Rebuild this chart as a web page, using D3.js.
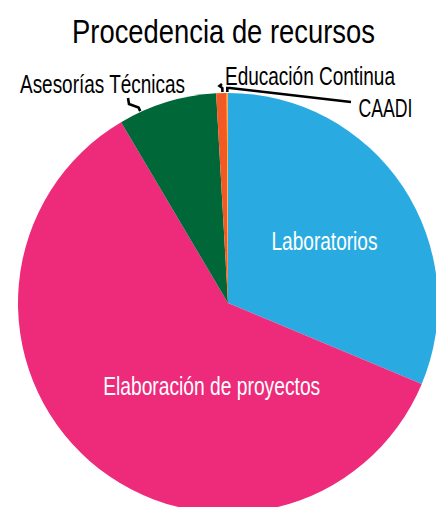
<!DOCTYPE html>
<html><head><meta charset="utf-8">
<script src="https://cdn.jsdelivr.net/npm/d3@7"></script>
<style>html,body{margin:0;padding:0;background:#fff;overflow:hidden}</style>
</head><body>
<svg id="c" width="436" height="507"></svg>
<script>
const categories = ["Laboratorios","Elaboración de proyectos","Asesorías Técnicas","Educación Continua","CAADI"];
const values = [31.3, 60.2, 7.6, 0.8, 0.1];
const colors = ["#29abe2","#ee2a7b","#006838","#f15a24","#fbb040"];
const title = "Procedencia de recursos";

const W=436,H=507, cx=228, cy=303, R=210;
const FONT='"Liberation Sans Narrow","Arial Narrow","Liberation Sans",Arial,sans-serif';
const svg=d3.select("#c");
const g=svg.append("g").attr("transform",`translate(${cx},${cy})`);
const pie=d3.pie().sort(null).value(d=>d)(values);
const arc=d3.arc().innerRadius(0).outerRadius(R);
g.selectAll("path").data(pie).join("path").attr("d",arc).attr("fill",(d,i)=>colors[i]);

function pt(a,r){return [r*Math.sin(a), -r*Math.cos(a)];}
function lerpA(d,t){return d.startAngle+(d.endAngle-d.startAngle)*t;}

const labelSpec=[
 {x:324.5,y:249.5,w:106,fill:"#fff"},
 {x:211.7,y:394.5,w:217,fill:"#fff"},
 {x:102.5,y:93,w:165,fill:"#000"},
 {x:310,y:85,w:170,fill:"#000"},
 {x:385.5,y:116.5,w:54,fill:"#000"}
];
const fs=25;
labelSpec.forEach((s,i)=>{
  svg.append("text").attr("x",s.x).attr("y",s.y).attr("text-anchor","middle")
   .attr("font-family",FONT).attr("font-size",fs).attr("fill",s.fill)
   .attr("textLength",s.w).attr("lengthAdjust","spacingAndGlyphs").text(categories[i]);
});
svg.append("text").attr("x",223.5).attr("y",43).attr("text-anchor","middle")
 .attr("font-family",FONT).attr("font-size",33.5).attr("fill","#000")
 .attr("textLength",303).attr("lengthAdjust","spacingAndGlyphs").text(title);

const line=d3.line();
function leader(i,t,pts){
  const a=lerpA(pie[i],t);
  const p0=pt(a,R+1), p1=pt(a,R+5);
  const arr=[[cx+p0[0],cy+p0[1]],[cx+p1[0],cy+p1[1]]].concat(pts);
  svg.append("path").attr("d",line(arr)).attr("fill","none").attr("stroke","#000").attr("stroke-width",2.6);
}
leader(2,0.22,[[129,104],[128,98]]);
leader(3,0.6,[[219.5,86],[222,84]]);
leader(4,0.5,[[230,88],[351,102]]);
</script>
</body></html>
